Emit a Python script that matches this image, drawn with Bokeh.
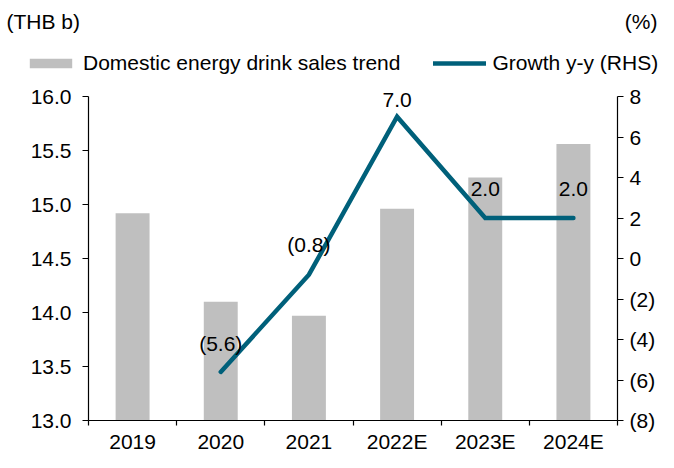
from bokeh.plotting import figure
from bokeh.models import (Range1d, LinearAxis, FixedTicker, CustomJSTickFormatter,
                          NumeralTickFormatter, ColumnDataSource, LabelSet, Label,
                          Legend, LegendItem)
from bokeh.core.properties import value
from bokeh.embed import file_html
from bokeh.resources import INLINE

# ---- data ----
years = ["2019", "2020", "2021", "2022E", "2023E", "2024E"]
sales = [14.92, 14.10, 13.97, 14.96, 15.25, 15.56]          # THB b (LHS)
growth_years = ["2020", "2021", "2022E", "2023E", "2024E"]
growth = [-5.6, -0.8, 7.0, 2.0, 2.0]                        # % y-y (RHS)
left_ticks = [13.0, 13.5, 14.0, 14.5, 15.0, 15.5, 16.0]
right_ticks = [-8, -6, -4, -2, 0, 2, 4, 6, 8]
bar_name = "Domestic energy drink sales trend"
line_name = "Growth y-y (RHS)"

# ---- styles / layout (screen pixels) ----
FONT = "Liberation Sans"
FS = "21px"
BAR_COLOR = "#BFBFBF"
LINE_COLOR = "#00607A"
label_offsets = [28, 30, 17, 29, 29]
W, H = 658, 452
PL, PR = 88, 617      # x pixel of the category band start / end
PT, PB = 96, 420      # y pixel of the axis top / bottom

def fmt(v):
    return "(%.1f)" % abs(v) if v < 0 else "%.1f" % v

def screen_range(lo, hi, p_lo, p_hi, total, invert=False):
    k = (hi - lo) / (p_hi - p_lo)
    if invert:   # pixel grows downward
        return Range1d(lo - (total - p_hi) * k, hi + p_lo * k)
    return Range1d(lo - p_lo * k, hi + (total - p_hi) * k)

n = len(years)
xs = [i + 0.5 for i in range(n)]
gx = [years.index(y) + 0.5 for y in growth_years]

p = figure(width=W, height=H, output_backend="svg", toolbar_location=None,
           x_axis_type=None, y_axis_type=None, min_border=0,
           x_range=screen_range(0, n, PL, PR, W),
           y_range=screen_range(left_ticks[0], left_ticks[-1], PT, PB, H, invert=True))
p.extra_y_ranges = {"right": screen_range(right_ticks[0], right_ticks[-1], PT, PB, H, invert=True)}
p.outline_line_color = None
p.grid.visible = False
p.background_fill_color = "white"
p.border_fill_color = "white"

bars = p.vbar(x=xs, top=sales, bottom=left_ticks[0], width=0.385,
              fill_color=BAR_COLOR, line_color=None)
line = p.line(gx, growth, y_range_name="right", line_width=4.5, line_color=LINE_COLOR,
              line_cap="round", line_join="miter")

src = ColumnDataSource(dict(x=gx, y=growth, text=[fmt(v) for v in growth], off=label_offsets))
labels = LabelSet(x="x", y="y", text="text", y_offset="off", source=src, y_range_name="right",
                  text_align="center", text_baseline="middle",
                  text_font=value(FONT), text_font_size=value(FS), text_color="black")
p.add_layout(labels)

# x axis
xa = LinearAxis(fixed_location=left_ticks[0], bounds=(0, n))
xa.ticker = FixedTicker(ticks=xs, minor_ticks=list(range(n + 1)))
xa.formatter = CustomJSTickFormatter(args=dict(labels=years),
                                     code="return labels[Math.floor(tick)];")
xa.major_tick_out = 0
xa.major_tick_in = 0
xa.minor_tick_out = 5
xa.minor_tick_in = 0
xa.minor_tick_line_color = "black"
xa.major_label_standoff = 4
p.add_layout(xa, "below")

# left axis
ya = LinearAxis(fixed_location=0, bounds=(left_ticks[0], left_ticks[-1]))
ya.ticker = FixedTicker(ticks=left_ticks)
ya.formatter = NumeralTickFormatter(format="0.0")
ya.major_tick_out = 6
ya.major_tick_in = 0
ya.minor_tick_line_color = None
ya.major_label_standoff = 11
p.add_layout(ya, "left")

# right axis
ra = LinearAxis(y_range_name="right", fixed_location=n, bounds=(right_ticks[0], right_ticks[-1]))
ra.ticker = FixedTicker(ticks=right_ticks)
ra.formatter = CustomJSTickFormatter(
    code="return tick < 0 ? '(' + Math.abs(tick) + ')' : tick.toString();")
ra.major_tick_out = 6
ra.major_tick_in = 0
ra.minor_tick_line_color = None
ra.major_label_standoff = 6
p.add_layout(ra, "right")

for ax in (xa, ya, ra):
    ax.axis_line_color = "black"
    ax.axis_line_width = 1.2
    ax.major_tick_line_color = "black"
    ax.major_tick_line_width = 1.2
    ax.minor_tick_line_width = 1.2
    ax.major_label_text_font = FONT
    ax.major_label_text_font_size = FS
    ax.major_label_text_color = "black"

legend = Legend(items=[LegendItem(label=bar_name, renderers=[bars]),
                       LegendItem(label=line_name, renderers=[line])],
                orientation="horizontal", location=(24, H - 63 - 12),
                glyph_width=53, glyph_height=12, label_standoff=6, spacing=33,
                padding=0, margin=0, border_line_color=None, background_fill_alpha=0,
                label_text_font=FONT, label_text_font_size=FS, label_text_color="black")
p.add_layout(legend, "center")

p.add_layout(Label(x=6, y=H - 21, x_units="screen", y_units="screen", text="(THB b)",
                   text_align="left", text_baseline="middle",
                   text_font=FONT, text_font_size=FS, text_color="black"))
p.add_layout(Label(x=W - 1, y=H - 21, x_units="screen", y_units="screen", text="(%)",
                   text_align="right", text_baseline="middle",
                   text_font=FONT, text_font_size=FS, text_color="black"))

open("out.html", "w").write(file_html(p, INLINE))
